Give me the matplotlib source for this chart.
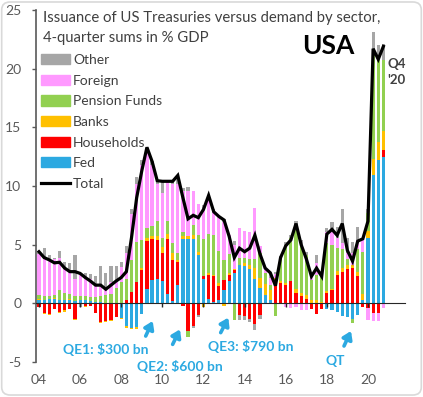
import numpy as np
import matplotlib
matplotlib.use("Agg")
import matplotlib.pyplot as plt
from matplotlib.patches import Patch, FancyBboxPatch
from matplotlib.lines import Line2D

plt.rcParams['font.family'] = ['Lato', 'DejaVu Sans']

# quarterly 4-quarter sums, % of GDP, 2004Q1 .. 2020Q4
fed = [0.3, 0.3, 0.35, 0.4, 0.3, 0.3, 0.3, 0.2, 0.25, 0.3, 0.2, 0.15, 0.1, 0.05, 0.0, 0.0,
       -1.25, -1.9, -2.1, -2.0, -0.9, 1.2, 2.0, 2.1, 1.9, 0.8, 0.2, 1.6, 5.5, 5.5, 5.5, 4.1,
       2.1, 0.4, 0.1, 0.3, 1.1, 1.9, 2.6, 3.3, 3.2, 2.9, 2.1, 1.3, 0.75, 0.3, 0.0, 0.0,
       0.0, 0.0, 0.0, 0.0, 0.0, 0.0, 0.0, 0.0, -0.45, -0.6, -0.7, -1.1, -1.2, -1.3, -1.0, 0.3,
       5.6, 10.9, 12.2, 12.5]
households = [-0.3, -0.85, -0.9, -0.5, -0.7, -0.6, -0.5, -1.3, 0.05, -0.2, -0.2, -0.8, -1.6, -1.5, -1.45, -1.2,
              0.0, 0.3, 1.0, 1.8, 2.8, 4.1, 3.5, 3.3, 2.4, 4.7, 3.5, 1.9, -0.2, -2.4, -1.9, -1.0,
              0.2, 2.0, 2.2, 1.2, 0.9, 0.5, 0.2, -1.0, -1.1, -1.3, -1.8, -1.0, -0.1, 0.0, 1.9, 1.75,
              1.6, 1.9, 0.9, 0.6, 0.35, -0.5, -0.95, -0.5, 0.85, 1.1, 2.45, 2.7, 2.9, 3.0, 2.3, -0.3,
              -0.4, -0.85, -0.8, 0.6]
banks = [0.05, -0.1, -0.1, 0.05, -0.15, -0.1, 0.05, -0.1, 0.0, -0.1, 0.0, 0.0, -0.05, -0.1, -0.05, 0.0,
         -0.1, -0.2, -0.1, -0.2, 0.2, 0.25, 0.25, 0.35, 0.5, 0.4, 0.6, 0.2, 0.2, 0.2, 0.3, 0.3,
         -0.3, 0.2, 0.1, 0.2, -0.2, 0.2, 0.1, 0.0, 0.2, 0.4, 0.9, 0.9, 0.9, 0.8, 0.3, 0.15,
         0.1, 0.0, 0.3, 0.3, 0.35, 0.3, 0.3, 0.1, 0.2, 0.15, 0.3, 0.3, 0.35, 0.3, 0.4, 0.5,
         0.6, 1.4, 1.55, 1.6]
pension = [0.35, 0.3, 0.25, 0.3, 0.8, 0.6, 0.45, 0.4, 0.35, 0.3, 0.35, 0.4, 0.5, 0.65, 0.8, 1.3,
           1.8, 1.8, 2.7, 3.4, 2.4, 0.85, 0.85, 1.25, 0.8, 1.1, 0.8, 0.6, 0.4, -0.5, 0.9, 1.4,
           3.2, 3.3, 3.4, 2.8, 1.7, 1.6, -1.4, 0.6, 0.5, 0.5, 0.8, 2.1, 0.9, 0.5, -1.1, 2.0,
           3.3, 3.7, 5.5, 4.1, 3.4, 1.7, 2.1, 2.2, 4.1, 3.7, 1.95, 1.6, 0.5, -0.4, 1.9, 3.6,
           1.5, 9.3, 7.0, 6.0]
foreign = [3.5, 3.3, 3.2, 3.05, 2.8, 2.0, 2.0, 1.5, 1.95, 1.6, 1.55, 1.05, 0.9, 0.7, 1.0, 0.6,
           1.3, 2.2, 3.9, 5.0, 6.4, 6.4, 5.2, 3.2, 3.8, 3.4, 5.1, 5.9, 3.5, 3.9, 2.9, 2.7,
           2.6, 3.0, 2.0, 2.9, 3.2, 1.6, 2.1, 2.5, 2.3, 2.3, 4.3, 0.6, 0.4, 0.6, 0.3, -0.1,
           -0.3, -0.4, -0.3, -0.6, -0.6, 0.3, 1.0, 0.1, 0.9, 1.1, 0.9, 0.5, 0.5, 1.0, 0.8, 1.2,
           -1.0, -0.65, -0.7, -0.4]
other = [0.15, 0.8, 0.3, 0.1, 0.6, 0.6, 0.6, 2.0, -0.3, 0.4, 0.4, 0.7, 1.7, 1.2, 1.4, 1.3,
         0.4, 0.6, 0.4, 0.6, 0.4, 0.4, 0.3, 0.3, 1.0, 0.0, 0.2, 0.7, 0.2, 0.3, -0.2, -0.2,
         0.3, 0.3, 0.2, 0.1, 0.3, -0.1, 0.3, -0.4, -0.3, -0.3, -0.5, -0.35, 0.1, 0.3, 0.2, 0.1,
         0.2, 0.2, 0.3, 0.4, 0.3, 0.3, 0.7, 0.1, 0.4, 0.9, 0.9, 2.9, 1.3, 0.9, 1.1, 0.0,
         0.3, 1.5, 1.3, 1.4]
total = [4.4, 3.9, 3.7, 3.45, 3.5, 3.0, 2.7, 2.7, 2.55, 2.2, 1.9, 1.55, 1.55, 1.2, 1.55, 1.9,
         2.2, 2.7, 5.6, 9.0, 11.3, 13.3, 12.1, 10.45, 10.4, 10.4, 10.4, 10.9, 9.0, 7.2, 7.5, 7.3,
         8.0, 9.2, 7.8, 7.4, 7.1, 5.7, 3.9, 4.7, 4.4, 4.7, 5.8, 4.2, 3.0, 2.6, 1.5, 3.9,
         4.9, 5.4, 6.8, 5.0, 3.8, 2.3, 3.0, 2.3, 5.9, 6.3, 5.8, 6.8, 4.5, 3.6, 5.3, 5.5,
         7.0, 21.7, 20.8, 21.9]

year_labels = ['04', '06', '08', '10', '12', '14', '16', '18', '20']
year_pos = [0, 8, 16, 24, 32, 40, 48, 56, 64]

series = [('Fed', fed, '#2CA9E1'),
          ('Households', households, '#FF0000'),
          ('Banks', banks, '#FFC000'),
          ('Pension Funds', pension, '#92D050'),
          ('Foreign', foreign, '#FF99FF'),
          ('Other', other, '#A6A6A6')]

txt = '#404040'
axc = '#595959'

fig = plt.figure(figsize=(4.23, 3.97), dpi=100)
ax = fig.add_axes([0.0861, 0.0882, 0.8713, 0.8866])

x = np.arange(len(total))
pos_bottom = np.zeros(len(x))
neg_bottom = np.zeros(len(x))
for name, vals, col in series:
    v = np.array(vals)
    bottom = np.where(v >= 0, pos_bottom, neg_bottom)
    ax.bar(x, v, width=0.62, bottom=bottom, color=col, linewidth=0)
    pos_bottom += np.clip(v, 0, None)
    neg_bottom += np.clip(v, None, 0)

ax.plot(x, total, color='black', lw=2.3, solid_joinstyle='miter')

ax.set_xlim(-0.5, 71.2)
ax.set_ylim(-5, 25)
ax.set_yticks([-5, 0, 5, 10, 15, 20, 25])
ax.set_yticklabels(['-5', '0', '5', '10', '15', '20', '25'])
ax.set_xticks(year_pos)
ax.set_xticklabels(year_labels)

for s in ['top', 'right']:
    ax.spines[s].set_visible(False)
ax.spines['bottom'].set_position(('data', 0))
ax.spines['bottom'].set_color('#262626')
ax.spines['left'].set_color(axc)
ax.spines['left'].set_linewidth(1.2)
ax.tick_params(axis='y', direction='out', length=3, width=1, color=axc,
               labelsize=10, labelcolor=axc, pad=8)
ax.tick_params(axis='x', direction='out', length=3, width=1, color='#262626',
               labelsize=10, labelcolor=axc, pad=48)

# title, two separate lines
fig.text(0.102, 0.955, 'Issuance of US Treasuries versus demand by sector,',
         ha='left', va='center', fontsize=10.7, color=txt)
fig.text(0.102, 0.904, '4-quarter sums in % GDP',
         ha='left', va='center', fontsize=10.7, color=txt)
fig.text(0.714, 0.883, 'USA', ha='left', va='center', fontsize=19, fontweight='bold', color='black')
fig.text(0.915, 0.819, "Q4\n'20", ha='left', va='center', fontsize=9.5, fontweight='bold',
         color=txt, linespacing=1.45)

handles = [Patch(color=col, label=name) for name, vals, col in series[::-1]]
handles.append(Line2D([0], [0], color='black', lw=2.3, label='Total'))
leg = ax.legend(handles=handles, loc='upper left', bbox_to_anchor=(0.0, 0.8865),
                frameon=False, fontsize=10, handlelength=2.1, handleheight=0.75,
                handletextpad=0.25, labelspacing=0.62, borderaxespad=0.1, borderpad=0.2)
for t in leg.get_texts():
    t.set_color(txt)

qe = '#2CA9E1'
ax.text(13.0, -3.92, 'QE1: $300 bn', ha='center', va='center', color=qe, fontsize=10, fontweight='bold')
ax.text(27.4, -5.35, 'QE2: $600 bn', ha='center', va='center', color=qe, fontsize=10,
        fontweight='bold', clip_on=False)
ax.text(41.2, -3.67, 'QE3: $790 bn', ha='center', va='center', color=qe, fontsize=10, fontweight='bold')
ax.text(57.7, -4.94, 'QT', ha='center', va='center', color=qe, fontsize=10, fontweight='bold',
        clip_on=False)
arrows = [((20.76, -2.79), (22.12, -1.51)),
          ((26.0, -3.5), (27.43, -2.22)),
          ((35.35, -2.5), (36.83, -1.22)),
          ((59.34, -3.64), (60.7, -2.36))]
for start, end in arrows:
    ax.annotate('', xy=end, xytext=start,
                arrowprops=dict(arrowstyle='-|>,head_length=0.45,head_width=0.3', lw=2.6,
                                color=qe, shrinkA=0, shrinkB=0))

frame = FancyBboxPatch((0.004, 0.005), 0.992, 0.99, boxstyle='round,pad=0,rounding_size=0.02',
                       transform=fig.transFigure, fill=False, edgecolor='#D9D9D9', lw=1.2)
fig.patches.append(frame)

fig.savefig('out.png', dpi=100)
